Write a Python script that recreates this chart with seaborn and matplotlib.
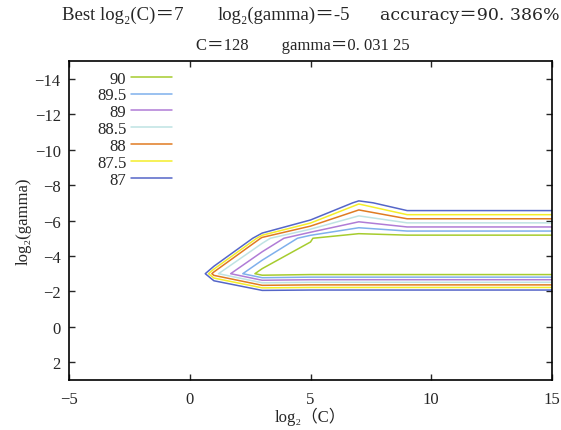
import numpy as np
import matplotlib
matplotlib.use('Agg')
import matplotlib.pyplot as plt
import seaborn as sns

# grid search result: log2(C) columns, log2(gamma) rows, CV accuracy (%)
log2c = [-5, -3, -1, 1, 3, 5, 7, 9, 11, 13, 15]
log2g = [-15, -13, -11, -9, -7, -5, -3, -1, 1, 3]
acc_rows = [
    [76.2, 76.2, 76.2, 76.2, 76.5, 77.1, 78.0, 79.4, 80.6, 81.5, 82.0],
    [76.2, 76.2, 76.2, 76.4, 77.0, 78.1, 79.6, 80.8, 81.7, 82.3, 82.6],
    [76.2, 76.2, 76.3, 76.9, 78.2, 79.7, 80.9, 81.9, 82.5, 82.9, 83.1],
    [76.2, 76.3, 76.8, 78.3, 80.1, 81.4, 80.1, 82.6, 83.0, 83.2, 83.3],
    [76.2, 76.4, 77.0, 78.4, 80.0, 84.2, 87.4, 86.05, 86.05, 86.05, 86.05],
    [76.2, 76.5, 78.0, 82.07, 88.2, 89.98, 90.386, 90.38, 90.38, 90.38, 90.38],
    [76.5, 77.8, 81.0, 88.31, 90.3, 90.17, 90.17, 90.17, 90.17, 90.17, 90.17],
    [76.8, 77.6, 79.5, 81.76, 83.3, 83.3, 83.3, 83.3, 83.3, 83.3, 83.3],
    [76.5, 76.8, 77.4, 78.2, 79.0, 79.3, 79.5, 79.6, 79.6, 79.6, 79.6],
    [76.2, 76.3, 76.5, 76.9, 77.3, 77.6, 77.8, 77.9, 77.9, 77.9, 77.9],
]
levels = [87, 87.5, 88, 88.5, 89, 89.5, 90]
level_colors = ['#5566c8', '#f4ee2a', '#e07b22', '#bfe3e3', '#b07cd6', '#7fb0ec', '#a6cc2e']

title_best_c = 'Best log₂(C)＝7'
title_best_g = 'log₂(gamma)＝-5'
title_acc = 'accuracy＝90. 386%'
title_2 = 'C＝128        gamma＝0. 031 25'

sns.set_style('ticks')
plt.rcParams['font.family'] = ['Liberation Serif', 'Noto Sans CJK SC']
plt.rcParams['axes.unicode_minus'] = True

fig = plt.figure(figsize=(5.61, 4.31), dpi=100)
ax = fig.add_axes([0.123, 0.116, 0.861, 0.74])

X, Y = np.meshgrid(log2c, log2g)
Z = np.array(acc_rows)
cs = ax.contour(X, Y, Z, levels=levels, colors=level_colors, linewidths=1.1)

# legend: value labels on the left, line sample on the right, highest first
handles = [plt.Line2D([], [], color=c, lw=1.1) for c in level_colors][::-1]
labels = [f'{lv:g}' for lv in levels][::-1]
ax.legend(handles, labels, loc='upper left', bbox_to_anchor=(0.058, 0.97),
          frameon=False, markerfirst=False, fontsize=12, labelspacing=0.05,
          handlelength=2.5, handletextpad=0.25, borderpad=0, borderaxespad=0)

ax.set_xlim(-5, 15)
ax.set_ylim(3, -15)
ax.set_xticks([-5, 0, 5, 10, 15])
ax.set_yticks(list(range(-14, 3, 2)))
ax.tick_params(direction='in', top=True, right=True, labelsize=12, length=4, width=1)
ax.tick_params(axis='x', pad=8)
ax.tick_params(axis='y', pad=6)
for sp in ax.spines.values():
    sp.set_linewidth(1.2)
    sp.set_color('black')

ax.set_xlabel('log₂（C）', fontsize=12, labelpad=0)
ax.set_ylabel('log₂(gamma)', fontsize=12, labelpad=2)

fig.text(62 / 561, 0.965, title_best_c, ha='left', va='center', fontsize=13.5)
fig.text(218 / 561, 0.965, title_best_g, ha='left', va='center', fontsize=13.5)
fig.text(560 / 561, 0.965, title_acc, ha='right', va='center', fontsize=12.5,
         family=['DejaVu Serif', 'Noto Sans CJK SC'])
fig.text(0.54, 0.893, title_2, ha='center', va='center', fontsize=12)

fig.savefig('out.png', dpi=100)
